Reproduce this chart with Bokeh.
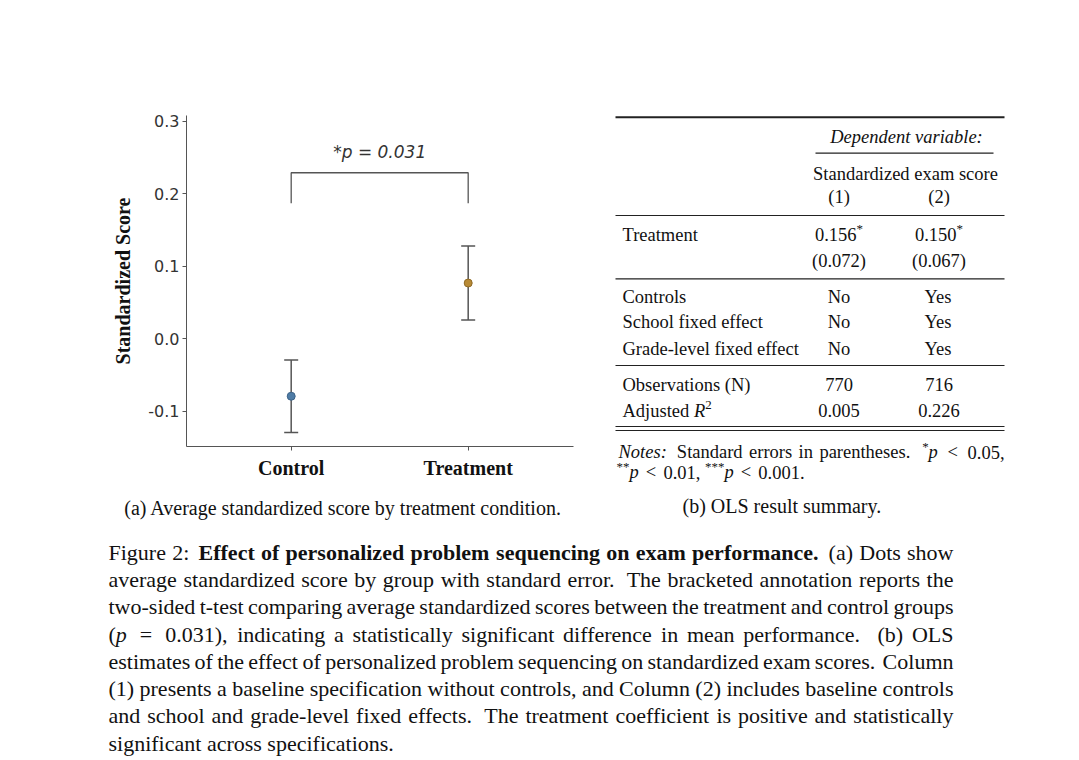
from bokeh.plotting import figure
from bokeh.models import Range1d, FixedTicker, NumeralTickFormatter, Whisker, TeeHead, ColumnDataSource
from bokeh.layouts import row, column
from bokeh.core.properties import value
from bokeh.embed import file_html
from bokeh.resources import INLINE

# ---------------- data ----------------
groups = ["Control", "Treatment"]
group_means = [-0.079, 0.077]
group_se = [0.050, 0.051]
group_colors = ["#4f7ca6", "#b88a35"]
group_edge = ["#3d6388", "#8f6a26"]
y_ticks = [-0.1, 0.0, 0.1, 0.2, 0.3]
p_label = "*p = 0.031"
bracket_low = 0.187
bracket_high = 0.229
p_label_y = 0.258

dep_var_label = "Dependent variable:"
dep_var_name = "Standardized exam score"
model_cols = ["(1)", "(2)"]
coef_label = "Treatment"
coef_est = ["0.156", "0.150"]
coef_stars = ["*", "*"]
coef_se = ["(0.072)", "(0.067)"]
fe_rows = ["Controls", "School fixed effect", "Grade-level fixed effect"]
fe_m1 = ["No", "No", "No"]
fe_m2 = ["Yes", "Yes", "Yes"]
n_obs = ["770", "716"]
adj_r2 = ["0.005", "0.226"]

sub_a = "(a) Average standardized score by treatment condition."
sub_b = "(b) OLS result summary."

# ---------------- Times metrics (Liberation Serif) ----------------
TR = {' ': 250, '!': 333, '(': 333, ')': 333, '*': 500, '+': 564, ',': 250, '-': 333, '.': 250,
      '/': 278, ':': 278, ';': 278, '<': 564, '=': 564, '>': 564, '?': 444,
      'A': 722, 'B': 667, 'C': 667, 'D': 722, 'E': 611, 'F': 556, 'G': 722, 'H': 722, 'I': 333,
      'J': 389, 'K': 722, 'L': 611, 'M': 889, 'N': 722, 'O': 722, 'P': 556, 'Q': 722, 'R': 667,
      'S': 556, 'T': 611, 'U': 722, 'V': 722, 'W': 944, 'X': 722, 'Y': 722, 'Z': 611,
      'a': 444, 'b': 500, 'c': 444, 'd': 500, 'e': 444, 'f': 333, 'g': 500, 'h': 500, 'i': 278,
      'j': 278, 'k': 500, 'l': 278, 'm': 778, 'n': 500, 'o': 500, 'p': 500, 'q': 500, 'r': 333,
      's': 389, 't': 278, 'u': 500, 'v': 500, 'w': 722, 'x': 500, 'y': 500, 'z': 444}
TI = dict(TR)
TI.update({':': 333, 'A': 611, 'B': 611, 'C': 667, 'D': 722, 'E': 611, 'F': 611, 'G': 722,
           'H': 722, 'I': 333, 'J': 444, 'K': 667, 'L': 556, 'M': 833, 'N': 667, 'O': 722,
           'P': 611, 'Q': 722, 'R': 611, 'S': 500, 'T': 556, 'U': 722, 'V': 611, 'W': 833,
           'a': 500, 'c': 444, 'f': 278, 'k': 444, 'm': 722, 'r': 389, 'v': 444, 'w': 667,
           'x': 444, 'y': 444, 'z': 389})
TB = dict(TR)
TB.update({':': 333, 'A': 722, 'B': 667, 'C': 722, 'D': 722, 'E': 667, 'F': 611, 'G': 778,
           'H': 778, 'I': 389, 'J': 500, 'K': 778, 'L': 667, 'M': 944, 'N': 722, 'O': 778,
           'P': 611, 'Q': 778, 'R': 722, 'S': 556, 'T': 667,
           'a': 500, 'b': 556, 'd': 556, 'h': 556, 'j': 333, 'k': 556, 'm': 833, 'n': 556,
           'p': 556, 'q': 556, 'r': 444, 't': 333, 'u': 556})
METRICS = {"r": TR, "i": TI, "b": TB, "sup": TR, "rel": TR}
SERIF = "Liberation Serif"
INK = "#111111"
REL_W = 778   # math relation box width (as in TeX), glyph drawn centred in it


def run_width(text, style, size):
    if style == "rel":
        return REL_W / 1000.0 * size
    scale = 0.7 if style == "sup" else 1.0
    return sum(METRICS[style].get(c, 500) for c in text) / 1000.0 * size * scale


def is_rel(word):
    return len(word) == 1 and word[0][1] == "rel"


def gap_spec(prev, nxt, size):
    """TeX-like inter-word glue: (natural, stretch, shrink)."""
    if is_rel(prev) or is_rel(nxt):
        return 0.278 * size, 0.278 * size, 0.0
    ch = prev[-1][0][-1]
    sf = 3000 if ch in ".?!" else 2000 if ch == ":" else 1250 if ch == "," else 1000
    nat, st, sh = 0.25, 0.2, 0.1
    if sf >= 2000:
        nat += 0.1
    return nat * size, st * sf / 1000.0 * size, sh * 1000.0 / sf * size


class Store:
    def __init__(self):
        self.d = {}

    def emit(self, x, y, text, style, size):
        if style == "sup":
            key = ("normal", round(size * 0.7, 2))
            y = y - 0.32 * size
        elif style == "rel":
            key = ("normal", size)
            x = x + (REL_W - TR.get(text, 564)) / 2000.0 * size
        else:
            key = ({"r": "normal", "i": "italic", "b": "bold"}[style], size)
        g = self.d.setdefault(key, {"x": [], "y": [], "text": []})
        g["x"].append(x)
        g["y"].append(y)
        g["text"].append(text)

    def runs(self, runs, x, y, size):
        for t, s in runs:
            self.emit(x, y, t, s, size)
            x += run_width(t, s, size)
        return x

    def center(self, runs, xc, y, size):
        tot = sum(run_width(t, s, size) for t, s in runs)
        self.runs(runs, xc - tot / 2.0, y, size)

    def line(self, words, x0, x1, y, size, justify=True):
        ws = [sum(run_width(t, s, size) for t, s in w) for w in words]
        glue = [gap_spec(words[k], words[k + 1], size) for k in range(len(words) - 1)]
        gaps = [g[0] for g in glue]
        if justify and glue:
            extra = (x1 - x0) - sum(ws) - sum(gaps)
            if extra >= 0:
                tot = sum(g[1] for g in glue)
                gaps = [g[0] + extra * g[1] / tot for g in glue]
            else:
                tot = sum(g[2] for g in glue) or 1.0
                gaps = [g[0] + extra * g[2] / tot for g in glue]
        x = x0
        for k, (w, wd) in enumerate(zip(words, ws)):
            self.runs(w, x, y, size)
            x += wd + (gaps[k] if k < len(gaps) else 0)

    def flush(self, p):
        for (style, size), g in self.d.items():
            p.text(x=g["x"], y=g["y"], text=g["text"], text_font=value(SERIF),
                   text_font_style=style, text_font_size=value(f"{size}px"),
                   text_align="left", text_baseline="middle", text_color=INK)


def words_of(s, style="r"):
    return [[(w, style)] for w in s.split()]


def canvas(w, h):
    p = figure(width=w, height=h, x_range=Range1d(0, w), y_range=Range1d(h, 0),
               toolbar_location=None, output_backend="svg", min_border=0,
               x_axis_location=None, y_axis_location=None, frame_align=False)
    p.outline_line_color = None
    p.grid.visible = False
    return p


# ---------------- left: dot + error bar plot ----------------
xs = list(range(len(groups)))
src = ColumnDataSource(dict(
    x=xs, mean=group_means,
    upper=[m + s for m, s in zip(group_means, group_se)],
    lower=[m - s for m, s in zip(group_means, group_se)],
    color=group_colors, edge=group_edge))

p1 = figure(width=600, height=490, x_range=Range1d(-0.5915, 1.595),
            y_range=Range1d(-0.1483, 0.3079), toolbar_location=None,
            output_backend="svg", min_border_left=186, min_border_right=27,
            min_border_top=115, min_border_bottom=44, frame_align=False)
p1.outline_line_color = None
p1.grid.visible = False
AX = "#555555"
for ax in (p1.xaxis[0], p1.yaxis[0]):
    ax.axis_line_color = AX
    ax.major_tick_line_color = AX
    ax.minor_tick_line_color = None
    ax.major_tick_in = 0
    ax.major_tick_out = 4
p1.yaxis.ticker = FixedTicker(ticks=y_ticks)
p1.yaxis.formatter = NumeralTickFormatter(format="0.0")
p1.yaxis.major_label_text_font = "DejaVu Sans"
p1.yaxis.major_label_text_font_size = "16px"
p1.yaxis.major_label_text_color = "#333333"
p1.yaxis.major_label_standoff = 3
p1.yaxis.axis_label = "Standardized Score"
p1.yaxis.axis_label_text_font = SERIF
p1.yaxis.axis_label_text_font_style = "bold"
p1.yaxis.axis_label_text_font_size = "20px"
p1.yaxis.axis_label_text_color = INK
p1.yaxis.axis_label_standoff = 11
p1.xaxis.ticker = FixedTicker(ticks=xs)
p1.xaxis.major_label_overrides = {i: g for i, g in zip(xs, groups)}
p1.xaxis.major_label_text_font = SERIF
p1.xaxis.major_label_text_font_style = "bold"
p1.xaxis.major_label_text_font_size = "20px"
p1.xaxis.major_label_text_color = INK
p1.xaxis.major_label_standoff = 6

wh = Whisker(source=src, base="x", upper="upper", lower="lower", dimension="height",
             line_color=AX, line_width=1.5, level="underlay",
             upper_head=TeeHead(size=14, line_color=AX, line_width=1.5),
             lower_head=TeeHead(size=14, line_color=AX, line_width=1.5))
p1.add_layout(wh)
p1.scatter("x", "mean", source=src, size=8, fill_color="color", line_color="edge", line_width=1)

bx = [xs[0], xs[0], xs[-1], xs[-1]]
p1.line(x=bx, y=[bracket_low, bracket_high, bracket_high, bracket_low], line_color=AX, line_width=1.3)
p1.text(x=[(xs[0] + xs[-1]) / 2.0], y=[p_label_y], text=[p_label], text_font=value("DejaVu Sans"),
        text_font_style="italic", text_font_size=value("17px"), text_align="center",
        text_baseline="middle", text_color="#333333")

# ---------------- right: regression table ----------------
p2 = canvas(479, 490)
st = Store()
FS = 18.5
LX, C1, C2 = 22, 238.5, 338.5
RULE = "#222222"
p2.segment(x0=[15], y0=[116.7], x1=[404], y1=[116.7], line_color=RULE, line_width=2)
st.center([(dep_var_label, "i")], 306, 136.7, FS)
p2.segment(x0=[215], y0=[152.7], x1=[393], y1=[152.7], line_color=RULE, line_width=1.2)
st.center([(dep_var_name, "r")], 305, 173.3, FS)
st.center([(model_cols[0], "r")], C1, 196.7, FS)
st.center([(model_cols[1], "r")], C2, 196.7, FS)
p2.segment(x0=[15], y0=[215], x1=[404], y1=[215], line_color=RULE, line_width=1.2)
st.runs([(coef_label, "r")], LX, 234, FS)
for cx, est, star, se in zip([C1, C2], coef_est, coef_stars, coef_se):
    st.center([(est, "r"), (star, "sup")], cx, 234, FS)
    st.center([(se, "r")], cx, 260.5, FS)
p2.segment(x0=[15], y0=[278.3], x1=[404], y1=[278.3], line_color=RULE, line_width=1.2)
for yy, lab, a, b in zip([296, 321.7, 348], fe_rows, fe_m1, fe_m2):
    st.runs([(lab, "r")], LX, yy, FS)
    st.center([(a, "r")], C1, yy, FS)
    st.center([(b, "r")], C2, yy, FS)
p2.segment(x0=[15], y0=[365], x1=[404], y1=[365], line_color=RULE, line_width=1.2)
st.runs([("Observations (N)", "r")], LX, 384, FS)
st.runs([("Adjusted ", "r"), ("R", "i"), ("2", "sup")], LX, 410, FS)
for cx, n, r2 in zip([C1, C2], n_obs, adj_r2):
    st.center([(n, "r")], cx, 384, FS)
    st.center([(r2, "r")], cx, 410, FS)
p2.segment(x0=[15, 15], y0=[426, 430], x1=[404, 404], y1=[426, 430], line_color=RULE, line_width=1.2)
notes1 = [[("Notes:", "i")]] + words_of("Standard errors in parentheses.") + \
         [[("*", "sup"), ("p", "i")], [("<", "rel")], [("0.05,", "r")]]
notes2 = [[("**", "sup"), ("p", "i")], [("<", "rel")], [("0.01,", "r")],
          [("***", "sup"), ("p", "i")], [("<", "rel")], [("0.001.", "r")]]
st.line(notes1, 18, 404, 451.7, FS, justify=True)
st.line(notes2, 16, 404, 471.7, FS, justify=False)
st.flush(p2)

# ---------------- bottom: captions ----------------
p3 = canvas(1079, 268)
sc = Store()
sc.center([(sub_a, "r")], 343.4, 17, 20)
sc.center([(sub_b, "r")], 782, 15, 20)
cap_lines = [
    words_of("Figure 2:") + words_of("Effect of personalized problem sequencing on exam performance.", "b")
    + words_of("(a) Dots show"),
    words_of("average standardized score by group with standard error. The bracketed annotation reports the"),
    words_of("two-sided t-test comparing average standardized scores between the treatment and control groups"),
    [[("(", "r"), ("p", "i")], [("=", "rel")], [("0.031),", "r")]]
    + words_of("indicating a statistically significant difference in mean performance. (b) OLS"),
    words_of("estimates of the effect of personalized problem sequencing on standardized exam scores. Column"),
    words_of("(1) presents a baseline specification without controls, and Column (2) includes baseline controls"),
    words_of("and school and grade-level fixed effects. The treatment coefficient is positive and statistically"),
    words_of("significant across specifications."),
]
for i, ln in enumerate(cap_lines):
    sc.line(ln, 108, 953, 62 + 27.24 * i, 22, justify=(i < len(cap_lines) - 1))
sc.flush(p3)

layout = column(row(p1, p2), p3)
open("out.html", "w").write(file_html(layout, INLINE))
